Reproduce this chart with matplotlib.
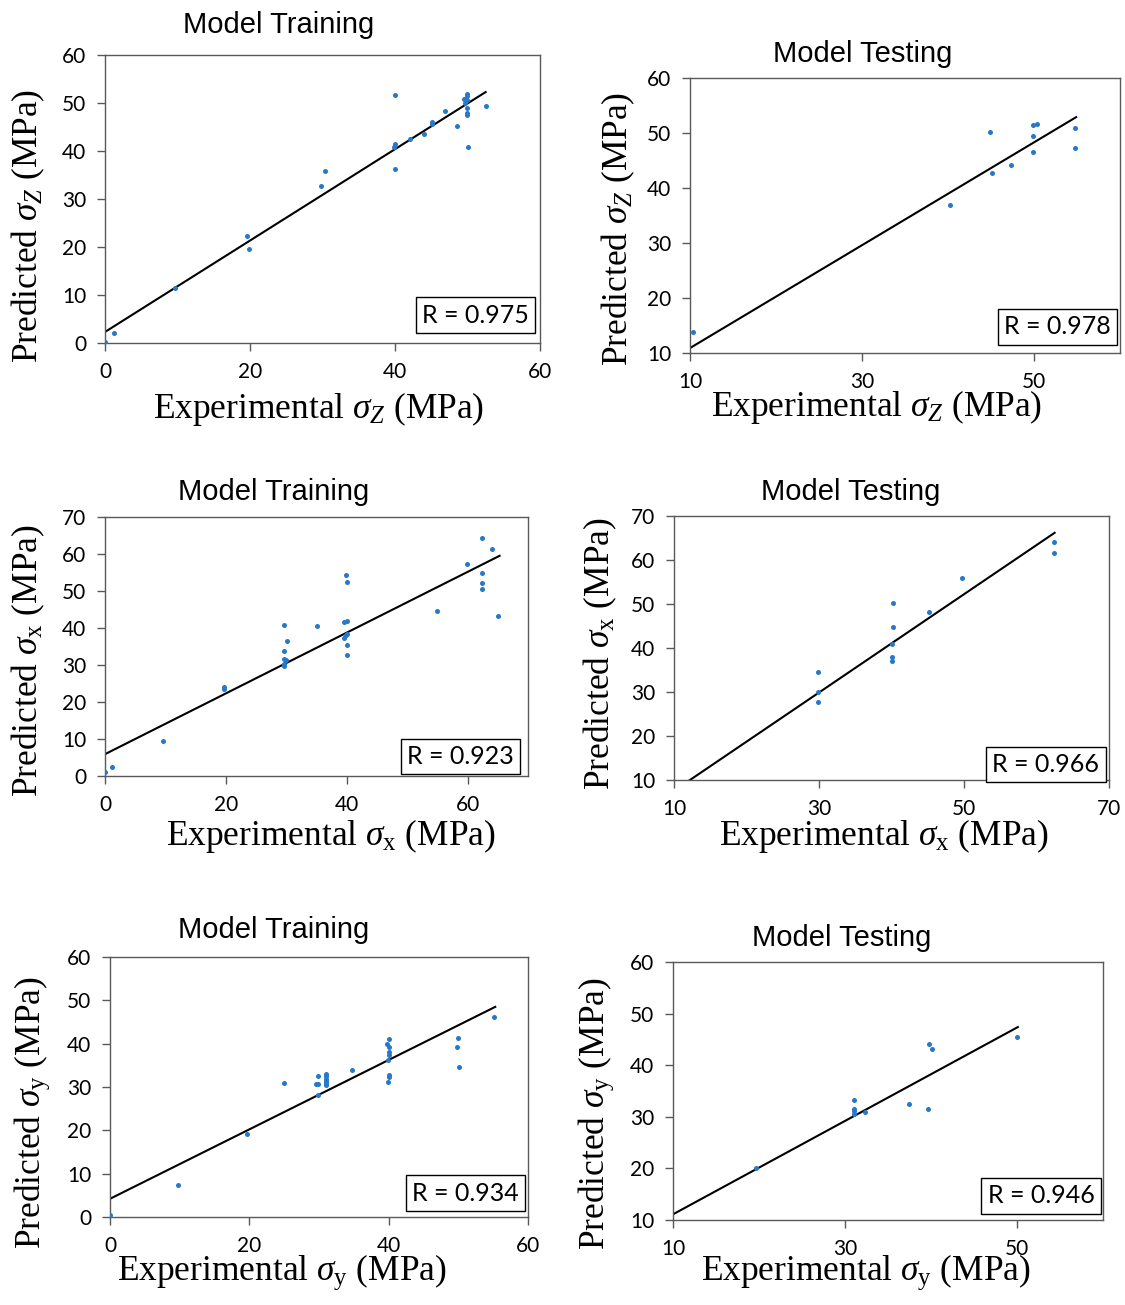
import matplotlib
matplotlib.use('Agg')
import matplotlib.pyplot as plt
import numpy as np

plt.rcParams['mathtext.fontset'] = 'custom'
plt.rcParams['mathtext.rm'] = 'Liberation Serif'
plt.rcParams['mathtext.it'] = 'Liberation Serif:italic'

# --- sigma_z, training
zt_exp = [0, 1.2, 9.6, 19.6, 19.8, 29.8, 30.3, 40.0, 40.0, 39.9, 40.0, 42.0, 44.0, 45.1, 45.1,
          46.9, 48.5, 49.5, 49.9, 49.9, 49.9, 49.7, 49.9, 49.9, 49.9, 50.1, 52.5]
zt_pred = [0.2, 2.1, 11.5, 22.3, 19.5, 32.8, 35.9, 51.7, 41.4, 40.8, 36.3, 42.4, 43.5, 46.0, 45.7,
           48.3, 45.3, 50.8, 51.9, 51.4, 50.6, 49.9, 49.0, 47.9, 47.4, 40.9, 49.4]
# --- sigma_z, testing
zs_exp = [10.4, 40.2, 44.9, 45.1, 47.3, 49.9, 50.4, 49.9, 49.9, 54.8, 54.8]
zs_pred = [13.9, 37.0, 50.1, 42.7, 44.1, 51.5, 51.7, 49.5, 46.5, 50.9, 47.3]
# --- sigma_x, training
xt_exp = [0, 1.2, 9.6, 19.7, 19.7, 29.7, 30.1, 29.7, 29.7, 29.9, 29.7, 29.7, 35.1, 39.8, 40.0,
          39.6, 40.0, 40.0, 39.8, 39.6, 40.0, 40.0, 54.9, 59.9, 62.4, 62.4, 62.4, 62.4, 64.0, 65.0]
xt_pred = [1.0, 2.3, 9.5, 24.0, 23.6, 40.7, 36.6, 33.7, 31.6, 31.3, 30.2, 29.7, 40.5, 54.2, 52.4,
           41.6, 41.9, 38.5, 38.0, 37.2, 35.4, 32.8, 44.5, 57.4, 64.2, 55.0, 52.2, 50.6, 61.3, 43.3]
# --- sigma_x, testing
xs_exp = [29.8, 29.8, 29.8, 40.2, 40.2, 40.0, 40.0, 40.0, 45.2, 49.7, 62.4, 62.4]
xs_pred = [34.5, 30.0, 27.7, 50.2, 44.7, 40.8, 37.9, 37.0, 48.2, 55.8, 64.0, 61.7]
# --- sigma_y, training
yt_exp = [0, 9.8, 19.6, 25.0, 29.9, 29.6, 29.9, 29.9, 31.0, 31.0, 31.0, 31.0, 31.0, 31.0, 34.8,
          40.1, 39.8, 40.0, 40.1, 40.1, 39.9, 40.0, 40.0, 39.9, 50.0, 49.8, 50.1, 55.1]
yt_pred = [0.4, 7.4, 19.2, 30.9, 32.6, 30.8, 30.6, 28.2, 33.0, 32.5, 31.9, 31.4, 30.9, 30.4, 33.9,
           41.0, 40.0, 39.2, 38.1, 37.5, 36.2, 32.8, 32.3, 31.2, 41.2, 39.2, 34.7, 46.2]
# --- sigma_y, testing
ys_exp = [19.6, 31.0, 31.0, 31.0, 31.0, 32.3, 37.4, 39.7, 39.8, 40.1, 50.0]
ys_pred = [20.1, 33.2, 31.5, 31.1, 30.5, 31.0, 32.4, 31.5, 44.1, 43.1, 45.4]

# trend lines: slope, intercept, x from, x to
fits = [(0.952, 2.3, 0, 52.5), (0.935, 1.55, 10, 54.9),
        (0.821, 5.9, 0, 65.3), (1.117, -3.63, 10, 62.5),
        (0.801, 4.2, 0, 55.3), (0.905, 2.05, 10, 50.1)]
r_values = ['0.975', '0.978', '0.923', '0.966', '0.934', '0.946']
titles = ['Model Training', 'Model Testing'] * 3
subs = [r'\mathit{Z}', r'\mathit{Z}', r'\mathrm{x}', r'\mathrm{x}', r'\mathrm{y}', r'\mathrm{y}']
xlims = [(0, 60), (10, 60), (0, 70), (10, 70), (0, 60), (10, 60)]
ylims = [(0, 60), (10, 60), (0, 70), (10, 70), (0, 60), (10, 60)]
xticks = [[0, 20, 40, 60], [10, 30, 50], [0, 20, 40, 60], [10, 30, 50, 70], [0, 20, 40, 60], [10, 30, 50]]
exps = [zt_exp, zs_exp, xt_exp, xs_exp, yt_exp, ys_exp]
preds = [zt_pred, zs_pred, xt_pred, xs_pred, yt_pred, ys_pred]

W, H = 1125, 1305
fig = plt.figure(figsize=(W / 100, H / 100), dpi=100)

# axes boxes in pixels: left, top, right, bottom
boxes = [(105, 55, 540, 343), (690, 78, 1120, 353),
         (105, 517, 528, 776), (674, 516, 1109, 780),
         (110, 957, 528, 1217), (673, 962, 1103, 1220)]
title_pos = [(279, 33), (863, 62), (274, 500), (851, 500), (274, 938), (842, 946)]
xlab_pos = [(319, 418), (877, 416), (331, 845), (884, 845), (282, 1280), (866, 1280)]
ylab_pos = [(37, 226), (627, 229), (37, 661), (609, 654), (40, 1113), (604, 1114)]
rbox_pos = [(0.986, 0.027), (0.99, 0.023), (0.979, 0.0), (0.99, -0.015), (0.99, 0.018), (0.992, 0.019)]

blue = '#2878C8'
for i in range(6):
    l, t, r, b = boxes[i]
    ax = fig.add_axes([l / W, 1 - b / H, (r - l) / W, (b - t) / H])
    ax.scatter(exps[i], preds[i], s=13, color=blue, zorder=3, linewidths=0)
    m, c, x0, x1 = fits[i]
    xx = np.array([x0, x1])
    ax.plot(xx, m * xx + c, color='black', lw=1.5, zorder=2)
    ax.set_xlim(*xlims[i])
    ax.set_ylim(*ylims[i])
    ax.set_xticks(xticks[i])
    ax.set_yticks(np.arange(ylims[i][0], ylims[i][1] + 1, 10))
    for s in ax.spines.values():
        s.set_color('#595959')
        s.set_linewidth(1.0)
    ax.tick_params(length=5.5, width=1.0, color='#595959', labelsize=15, pad=8)
    for lab in ax.get_xticklabels() + ax.get_yticklabels():
        lab.set_fontfamily('Lato')
    ax.text(rbox_pos[i][0] - 0.012, rbox_pos[i][1] + 0.03, 'R = ' + r_values[i],
            transform=ax.transAxes, ha='right', va='bottom', fontsize=18, family='Lato',
            bbox=dict(boxstyle='square,pad=0.25', fc='white', ec='black', lw=1.0), zorder=5)

    fig.text(title_pos[i][0] / W, 1 - title_pos[i][1] / H, titles[i], ha='center', va='baseline',
             fontsize=21, family='Liberation Sans')
    fig.text(xlab_pos[i][0] / W, 1 - xlab_pos[i][1] / H,
             'Experimental $\\sigma_{' + subs[i] + '}$ (MPa)', ha='center', va='baseline',
             fontsize=25.5, family='Liberation Serif')
    fig.text(ylab_pos[i][0] / W, 1 - ylab_pos[i][1] / H,
             'Predicted $\\sigma_{' + subs[i] + '}$ (MPa)', ha='center', va='baseline',
             rotation=90, rotation_mode='anchor', fontsize=25.5, family='Liberation Serif')

fig.savefig('out.png', dpi=100)
